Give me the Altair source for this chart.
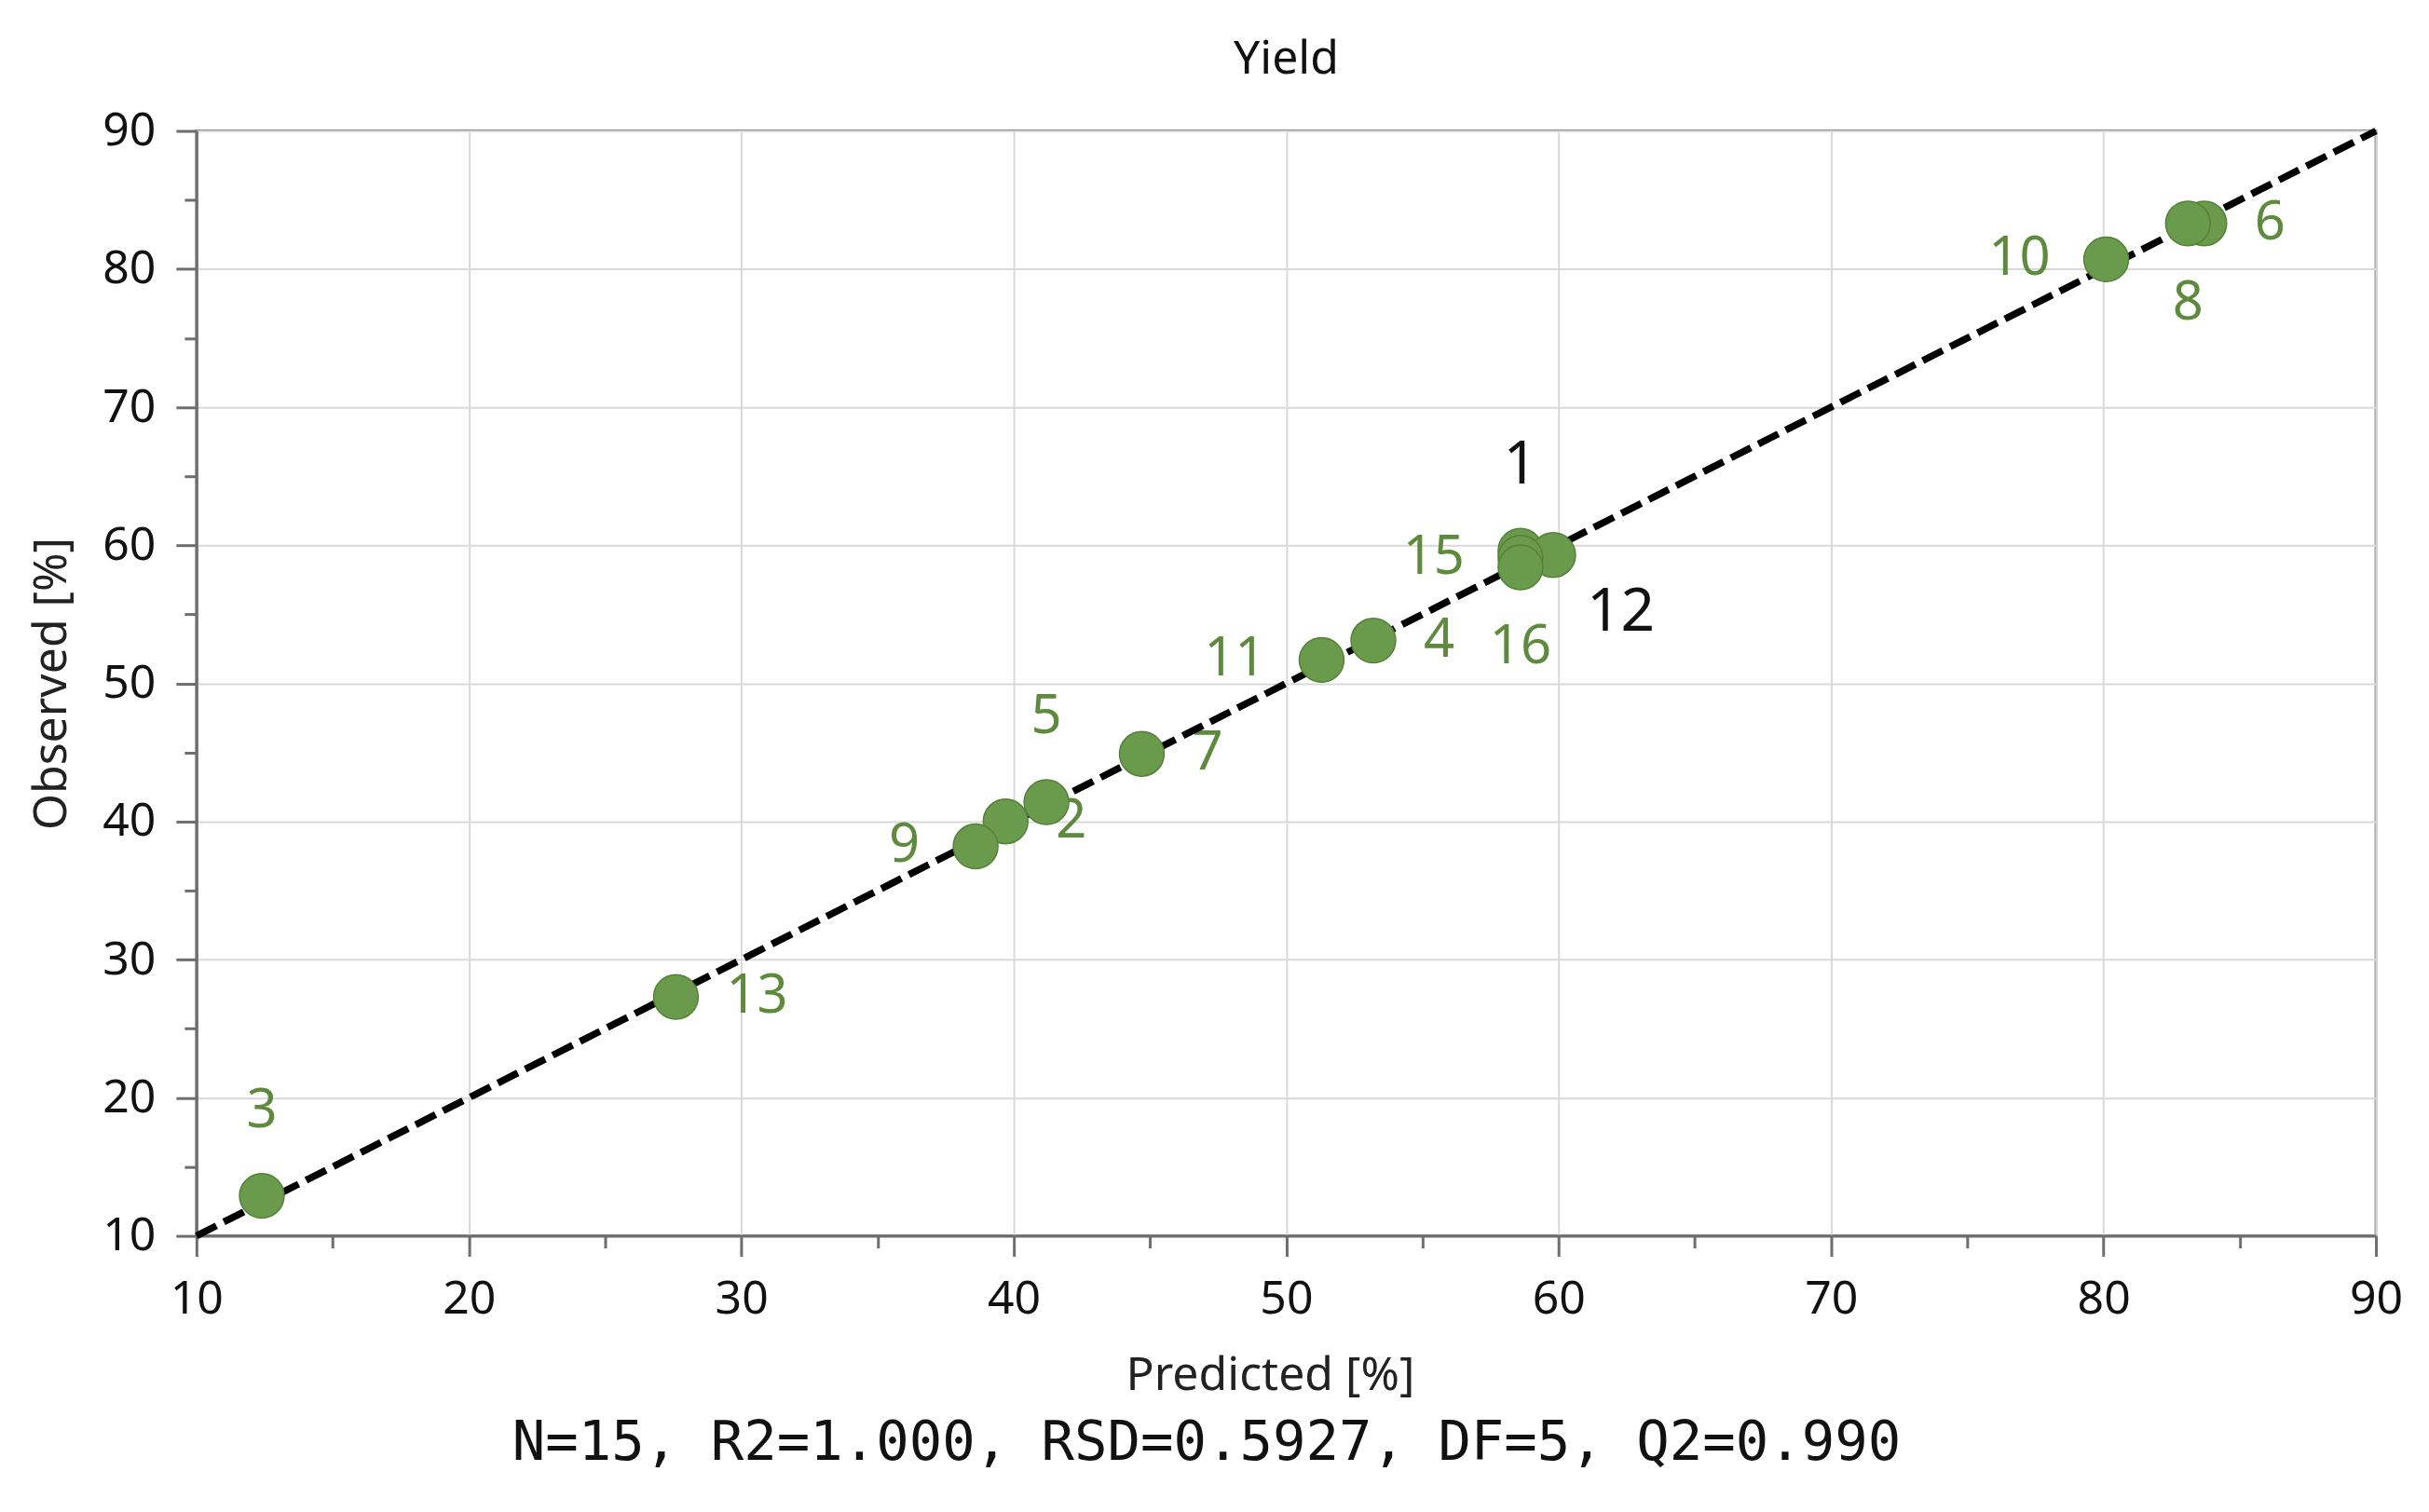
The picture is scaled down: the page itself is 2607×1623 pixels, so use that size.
import altair as alt
import pandas as pd

# ---- data ----
run_ids = ["1", "2", "3", "4", "5", "6", "7", "8", "9", "10", "11", "12", "13", "15", "16"]
predicted = [58.6, 39.7, 12.4, 53.2, 41.2, 83.7, 44.7, 83.1, 38.6, 80.1, 51.3, 59.8, 27.6, 58.6, 58.6]
observed = [59.6, 40.0, 12.9, 53.1, 41.4, 83.3, 44.9, 83.3, 38.2, 80.7, 51.7, 59.3, 27.3, 59.1, 58.4]

diag_x = [10, 90]
diag_y = [10, 90]

tick_values = [10, 15, 20, 25, 30, 35, 40, 45, 50, 55, 60, 65, 70, 75, 80, 85, 90]

title_text = "Yield"
x_title = "Predicted [%]"
y_title = "Observed [%]"
footer_text = "N=15, R2=1.000, RSD=0.5927, DF=5, Q2=0.990"

# label placement groups (which side of the point each run label sits)
label_above = ["3", "5", "1"]
label_below = ["16", "8"]
label_right = ["13", "2", "7", "4", "6"]
label_left = ["9", "11", "15", "10"]
label_below_right = ["12"]
highlighted = ["1", "12"]

W, H = 2341, 1187
FONT = "Noto Sans"
GREEN = "#6a9b4c"
LABEL_GREEN = "#5e8a3e"

df = pd.DataFrame({"id": run_ids, "pred": predicted, "obs": observed})
diag = pd.DataFrame({"x": diag_x, "y": diag_y})

xscale = alt.Scale(domain=[10, 90], nice=False, zero=False)
yscale = alt.Scale(domain=[10, 90], nice=False, zero=False)

major_test = "datum.value % 10 === 0"

x_axis = alt.Axis(
    title=x_title,
    values=tick_values,
    labelExpr="datum.value % 10 === 0 ? datum.label : ''",
    labelFlush=False,
    tickSize={"condition": {"test": major_test, "value": 22}, "value": 13},
    gridOpacity={"condition": {"test": major_test, "value": 1}, "value": 0},
    labelPadding=21,
    titlePadding=32,
    titleX=1153,
)
y_axis = alt.Axis(
    title=y_title,
    values=tick_values,
    labelExpr="datum.value % 10 === 0 ? datum.label : ''",
    labelFlush=False,
    tickSize={"condition": {"test": major_test, "value": 22}, "value": 13},
    gridOpacity={"condition": {"test": major_test, "value": 1}, "value": 0},
    labelPadding=22,
    titlePadding=29,
)

line = alt.Chart(diag).mark_line(
    color="black", strokeWidth=7.5, strokeDash=[24, 9], strokeCap="butt"
).encode(
    x=alt.X("x:Q", scale=xscale, axis=x_axis),
    y=alt.Y("y:Q", scale=yscale, axis=y_axis),
)

points = alt.Chart(df).mark_circle(
    size=2300, opacity=1, color=GREEN, stroke="#55803a", strokeWidth=1.5
).encode(
    x=alt.X("pred:Q", scale=xscale),
    y=alt.Y("obs:Q", scale=yscale),
)


def label_layer(group, dx, dy, align):
    return alt.Chart(df).transform_filter(
        alt.FieldOneOfPredicate(field="id", oneOf=group)
    ).mark_text(
        font=FONT, dx=dx, dy=dy, align=align, baseline="middle"
    ).encode(
        x=alt.X("pred:Q", scale=xscale),
        y=alt.Y("obs:Q", scale=yscale),
        text="id:N",
        color=alt.condition(
            alt.FieldOneOfPredicate(field="id", oneOf=highlighted),
            alt.value("#111111"),
            alt.value(LABEL_GREEN),
        ),
        size=alt.condition(
            alt.FieldOneOfPredicate(field="id", oneOf=highlighted),
            alt.value(64),
            alt.value(58),
        ),
    )


labels = [
    label_layer(label_above, 0, -91, "center"),
    label_layer(label_below, 0, 86, "center"),
    label_layer(label_right, 54, 0, "left"),
    label_layer(label_left, -60, 0, "right"),
    label_layer(label_below_right, 36, 62, "left"),
]

footer = alt.Chart(pd.DataFrame({"t": [footer_text]})).mark_text(
    font="DejaVu Sans Mono", fontSize=59, align="center", baseline="alphabetic", color="#111111"
).encode(
    x=alt.value(1085),
    y=alt.value(1428),
    text="t:N",
)

chart = alt.layer(*labels, line, points, footer).properties(
    width=W,
    height=H,
    title=alt.TitleParams(title_text, fontSize=50, font=FONT, fontWeight="normal",
                          color="#111111", offset=27, anchor="middle"),
    padding={"left": 22, "top": 30, "right": 20, "bottom": 20},
).configure_view(
    stroke="#8a8a8a", strokeWidth=3
).configure_axis(
    labelFont=FONT, labelFontSize=50, labelColor="#111111",
    titleFont=FONT, titleFontSize=50, titleFontWeight="normal", titleColor="#222222",
    domainColor="#6e6e6e", domainWidth=3,
    tickColor="#6e6e6e", tickWidth=3,
    gridColor="#d9d9d9", gridWidth=2,
)

chart.save("out.html", embed_options={"renderer": "svg", "actions": False})
